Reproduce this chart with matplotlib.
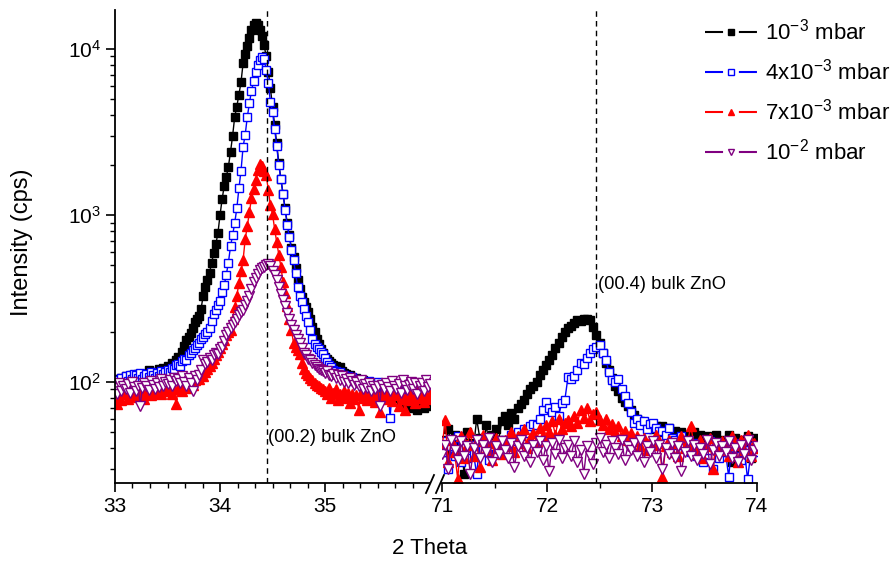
import numpy as np
import matplotlib
matplotlib.use('Agg')
import matplotlib.pyplot as plt
from matplotlib.lines import Line2D
from matplotlib.ticker import FixedLocator, LogLocator, NullFormatter

plt.rcParams['font.family'] = ['Liberation Sans', 'DejaVu Sans']
plt.rcParams['mathtext.fontset'] = 'custom'
plt.rcParams['mathtext.rm'] = 'Liberation Sans'
plt.rcParams['mathtext.it'] = 'Liberation Sans:italic'
plt.rcParams['mathtext.bf'] = 'Liberation Sans:bold'

# ---------------- data ----------------
left_start, left_step = 33.0, 0.02
right_start, right_step = 71.0, 0.03

labels = [r'$10^{-3}$ mbar', r'4x$10^{-3}$ mbar', r'7x$10^{-3}$ mbar', r'$10^{-2}$ mbar']

black_left = [100, 104, 97, 106, 101, 108, 103, 99, 110, 105, 102, 111, 107, 104, 112,
              109, 118, 113, 106, 115, 112, 119, 110, 121, 116, 124, 118, 130, 127, 136,
              142, 139, 152, 165, 178, 186, 197, 212, 228, 240, 250, 275, 330, 370, 410,
              450, 520, 590, 670, 780, 1000, 1250, 1500, 1700, 1960, 2400, 3000, 3900, 4500, 5300,
              6300, 8200, 9300, 10400, 11600, 12900, 13900, 14300, 13900, 13000,
              12000, 10500, 9000, 7300, 5800, 4500, 3500, 2700, 2050, 1650,
              1350, 1100, 900, 760, 640, 560, 480, 410, 360, 325,
              300, 282, 262, 240, 215, 198, 180, 168, 158, 150,
              142, 138, 134, 130, 127, 125, 120, 122, 116, 113, 112, 108, 110, 105, 103,
              105, 100, 98, 102, 96, 98, 94, 99, 92, 95, 93, 96, 90, 88, 94,
              90, 86, 92, 84, 88, 80, 76, 82, 72, 78, 74, 70, 76, 72, 68,
              72, 75, 70, 76, 72, 74]
blue_left = [96, 102, 94, 105, 99, 108, 101, 110, 104, 112, 110, 106, 113, 104, 109,
             112, 107, 115, 110, 106, 113, 109, 116, 111, 115, 118, 114, 121, 119, 126,
             128, 124, 133, 138, 136, 145, 150, 156, 160, 167, 172, 180, 186, 195, 200,
             210, 232, 255, 270, 290, 305, 345, 380, 440, 520, 650, 760, 900, 1100, 1450,
             1850, 2580, 3050, 3900, 4700, 5600, 6400, 7300, 8000, 8600,
             8900, 8700, 7500, 6200, 4800, 4200, 3300, 2600, 2000, 1650,
             1350, 1080, 880, 740, 620, 540, 450, 370, 330, 300,
             275, 250, 228, 205, 180, 168, 162, 158, 152, 148,
             140, 132, 126, 122, 118, 116, 112, 115, 108, 110, 106, 109, 103, 107, 101,
             104, 99, 102, 97, 100, 98, 101, 95, 99, 93, 100, 94, 97, 91, 96,
             92, 61, 89, 94, 90, 95, 88, 92, 88, 90, 86, 91, 84, 89, 82,
             88, 83, 90, 85, 80, 86]
red_left = [80, 74, 85, 78, 88, 84, 79, 90, 82, 86, 88, 81, 92, 86, 79,
            85, 90, 83, 88, 92, 86, 91, 84, 89, 93, 88, 94, 85, 91, 74,
            90, 95, 88, 94, 98, 92, 100, 96, 103, 106, 104, 110, 108, 115, 120,
            124, 130, 138, 145, 152, 160, 168, 178, 190, 198, 205, 240, 280, 330, 390,
            460, 540, 720, 860, 1050, 1270, 1440, 1640, 1880, 2030,
            1980, 1850, 1750, 1420, 1150, 1020, 830, 690, 580, 490,
            400, 340, 285, 240, 205, 172, 162, 155, 148, 130,
            120, 113, 110, 106, 103, 98, 96, 94, 92, 90,
            88, 84, 92, 80, 86, 90, 78, 85, 82, 88, 80, 86, 75, 84, 79,
            83, 68, 86, 80, 84, 78, 85, 81, 88, 76, 82, 66, 84, 79, 86,
            80, 88, 77, 83, 85, 72, 84, 79, 68, 82, 86, 78, 83, 75, 88,
            80, 85, 76, 82, 79, 84]
purple_left = [92, 85, 98, 88, 95, 90, 97, 86, 100, 93, 88, 95, 72, 92, 98,
               94, 89, 101, 96, 90, 98, 93, 104, 95, 100, 97, 103, 95, 106, 101,
               104, 98, 108, 100, 94, 105, 99, 88, 108, 103, 110, 118, 135, 128, 132,
               139, 135, 145, 150, 148, 158, 163, 175, 190, 200, 212, 220, 228, 240, 252,
               262, 270, 290, 305, 330, 360, 400, 420, 445, 470,
               480, 490, 505, 510, 495, 460, 440, 410, 370, 335,
               310, 285, 260, 240, 220, 205, 192, 180, 171, 160,
               150, 145, 138, 136, 130, 126, 122, 120, 118, 117,
               113, 116, 110, 108, 112, 106, 110, 103, 108, 100, 104, 98, 106, 101, 96,
               100, 94, 102, 90, 97, 92, 99, 88, 95, 91, 94, 72, 96, 90, 99,
               93, 88, 101, 95, 90, 97, 86, 103, 94, 89, 96, 100, 91, 98, 85,
               94, 99, 88, 102, 93, 97]

black_right = [45, 38, 52, 41, 48, 36, 44, 28, 50, 43, 40, 60, 46, 38, 55, 42, 48, 52, 45, 58,
               62, 55, 65, 60, 70, 74, 78, 85, 90, 94, 100, 110, 118, 126, 136, 145, 160, 171, 185, 200,
               210, 218, 225, 235, 232, 240, 238, 235, 215, 190, 171, 150, 130, 118, 105, 95, 88, 80, 76, 72,
               68, 63, 60, 58, 56, 55, 54, 52, 54, 50, 54, 51, 53, 49, 51, 47, 50, 46, 48, 44,
               50, 45, 48, 42, 47, 44, 40, 48, 38, 45, 44, 48, 33, 46, 38, 45, 42, 47, 35, 46, 44]
blue_right = [38, 44, 30, 41, 36, 47, 33, 40, 35, 42, 37, 28, 43, 39, 46, 34, 41, 37, 44, 40,
              45, 42, 48, 44, 50, 47, 52, 49, 54, 56, 55, 60, 68, 76, 70, 66, 71, 62, 75, 78,
              107, 104, 108, 118, 130, 128, 140, 149, 158, 162, 166, 150, 136, 115, 103, 100, 104, 90, 82, 75,
              66, 57, 60, 55, 58, 52, 56, 57, 53, 51, 51, 48, 53, 46, 45, 42, 47, 40, 44, 38,
              43, 36, 41, 33, 39, 44, 30, 40, 35, 42, 38, 27, 41, 36, 43, 34, 39, 26, 37, 41, 38]
red_right = [40, 59, 33, 45, 38, 26, 47, 35, 42, 50, 36, 44, 31, 48, 39, 43, 34, 46, 40, 37,
             45, 41, 50, 38, 47, 43, 52, 40, 46, 49, 44, 53, 47, 55, 50, 58, 48, 60, 52, 57,
             59, 54, 62, 57, 68, 61, 70, 58, 64, 66, 59, 55, 60, 52, 56, 50, 54, 47, 51, 45,
             49, 44, 47, 41, 46, 39, 44, 42, 48, 43, 27, 41, 45, 38, 43, 36, 47, 40, 44, 54,
             42, 37, 45, 35, 41, 46, 30, 43, 39, 44, 40, 36, 47, 42, 33, 45, 39, 48, 36, 43, 40]
purple_right = [37, 42, 30, 45, 39, 34, 44, 36, 41, 28, 40, 45, 35, 42, 38, 46, 33, 41, 37, 44,
                39, 35, 43, 31, 41, 45, 36, 40, 33, 42, 38, 44, 34, 41, 29, 43, 37, 45, 35, 40,
                42, 36, 44, 33, 39, 28, 41, 36, 32, 43, 46, 38, 42, 35, 44, 40, 37, 45, 34, 41,
                39, 43, 36, 45, 33, 41, 38, 44, 35, 42, 30, 40, 37, 43, 35, 41, 29, 38, 44, 36,
                42, 34, 40, 37, 45, 32, 39, 43, 36, 41, 38, 44, 35, 40, 33, 42, 37, 45, 34, 39, 41]

peak_002 = 34.45
peak_004 = 72.47

# ---------------- figure ----------------
W, H = 896, 562
fig = plt.figure(figsize=(W / 100, H / 100), dpi=100)
L1, L2, AW = 115, 442, 315
TOP, BOT = 10, 483
ax1 = fig.add_axes([L1 / W, 1 - BOT / H, AW / W, (BOT - TOP) / H])
ax2 = fig.add_axes([L2 / W, 1 - BOT / H, AW / W, (BOT - TOP) / H], sharey=ax1)

colors = ['#000000', '#0000FF', '#FF0000', '#800080']
markers = ['s', 's', '^', 'v']
faces = ['#000000', 'white', '#FF0000', 'white']
msizes = [5.5, 5.5, 6.5, 6.5]

lefts = [black_left, blue_left, red_left, purple_left]
rights = [black_right, blue_right, red_right, purple_right]

for vals_l, vals_r, c, m, fc, s in zip(lefts, rights, colors, markers, faces, msizes):
    xl = left_start + left_step * np.arange(len(vals_l))
    xr = right_start + right_step * np.arange(len(vals_r))
    for ax, xx, yy in ((ax1, xl, vals_l), (ax2, xr, vals_r)):
        ax.plot(xx, yy, color=c, lw=1.0, marker=m, ms=s, mfc=fc, mec=c, mew=1.0)

ax1.set_yscale('log')
ax1.set_ylim(24.7, 17100)
ax1.set_xlim(33, 36)
ax2.set_xlim(71, 74)

for ax in (ax1, ax2):
    ax.spines['top'].set_visible(False)
    ax.spines['right'].set_visible(False)
    for s in ax.spines.values():
        s.set_linewidth(1.3)
    ax.tick_params(which='major', direction='out', length=6.5, width=1.2, labelsize=15)
    ax.tick_params(which='minor', direction='out', length=3.5, width=1.0)
ax2.spines['left'].set_visible(False)
ax2.tick_params(axis='y', which='both', left=False, labelleft=False)

ax1.yaxis.set_major_locator(LogLocator(base=10))
ax1.yaxis.set_minor_locator(LogLocator(base=10, subs=np.arange(2, 10)))
ax1.yaxis.set_minor_formatter(NullFormatter())

ax1.set_xticks([33, 34, 35])
ax1.xaxis.set_minor_locator(FixedLocator([33 + k / 6 for k in range(1, 18) if k % 6]))
ax2.set_xticks([71, 72, 73, 74])
ax2.xaxis.set_minor_locator(FixedLocator([71.5, 72.5, 73.5]))

for ax, p in ((ax1, peak_002), (ax2, peak_004)):
    ax.axvline(p, color='black', lw=1.0, ls=(0, (4, 3)))

ax1.text(peak_002 + 0.005, 46.5, '(00.2) bulk ZnO', fontsize=13.2, ha='left', va='center')
ax2.text(peak_004 + 0.015, 383, '(00.4) bulk ZnO', fontsize=13.2, ha='left', va='center')

fig.text(22 / W, 1 - 242 / H, 'Intensity (cps)', rotation=90, fontsize=17, ha='center', va='center')
fig.text(430 / W, 1 - 548 / H, '2 Theta', fontsize=16, ha='center', va='center')

# axis break marks
for xc in (430, 440):
    fig.add_artist(Line2D([(xc - 4) / W, (xc + 4) / W], [1 - 493 / H, 1 - 475 / H],
                          color='black', lw=1.3, transform=fig.transFigure))

# legend
handles = [Line2D([0], [0], color=c, lw=1.5, ls=(0, (13 / 1.5, 11.4 / 1.5)), marker=m, ms=4,
                  mfc=fc, mec=c, mew=1.0) for c, m, fc in zip(colors, markers, faces)]
fig.legend(handles, labels, loc='upper left', bbox_to_anchor=(705 / W, 1 - 19 / H),
           frameon=False, fontsize=16, handlelength=2.34, handletextpad=0.35,
           labelspacing=0.63, borderpad=0, borderaxespad=0, numpoints=1)

fig.savefig('out.png', dpi=100)
